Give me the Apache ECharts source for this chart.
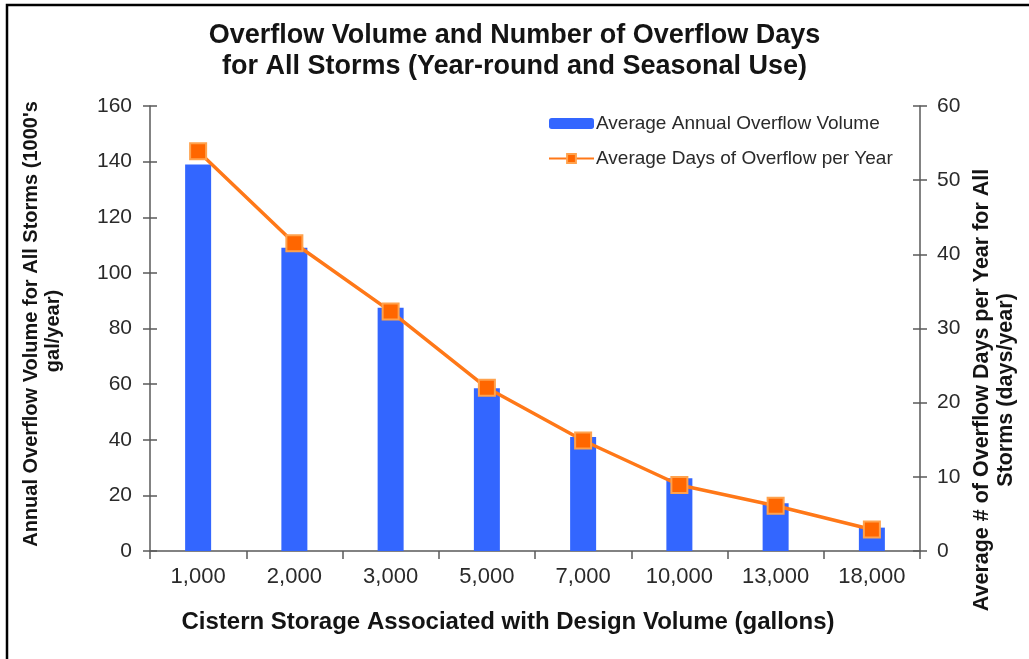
<!DOCTYPE html>
<html>
<head>
<meta charset="utf-8">
<script src="https://cdn.jsdelivr.net/npm/echarts@6/dist/echarts.min.js"></script>
<style>
html,body{margin:0;padding:0;background:#fff;}
#chart{width:1029px;height:659px;}
</style>
</head>
<body>
<div id="chart"></div>
<script>
const categories = ['1,000','2,000','3,000','5,000','7,000','10,000','13,000','18,000'];
const overflowVolume = [139, 109, 87.5, 58.5, 41, 26.2, 17.2, 8.4];
const overflowDays = [53.9, 41.5, 32.3, 22.0, 14.9, 8.9, 6.1, 2.9];
const titleLines = ['Overflow Volume and Number of Overflow Days', 'for All Storms (Year-round and Seasonal Use)'];
const seriesNames = ['Average Annual Overflow Volume', 'Average Days of Overflow per Year'];
const xAxisTitle = 'Cistern Storage Associated with Design Volume (gallons)';
const leftAxisTitle = ["Annual Overflow Volume for All Storms (1000's", 'gal/year)'];
const rightAxisTitle = ['Average # of Overflow Days per Year for All', 'Storms (days/year)'];
const leftAxisRange = [0, 160, 20];
const rightAxisRange = [0, 60, 10];

const FONT = 'Liberation Sans, Arial, sans-serif';
const axisColor = '#5a5a5a';
const labelColor = '#2a2a2a';
const titleColor = '#141414';

function valueAxis(range, pos, withLabels, inside) {
  return {
    type: 'value', min: range[0], max: range[1], interval: range[2],
    position: pos,
    splitLine: { show: false },
    axisLine: { show: withLabels, lineStyle: { color: axisColor, width: 1.5 } },
    axisTick: { show: true, inside: inside, length: 7, lineStyle: { color: axisColor, width: 1.5 } },
    axisLabel: { show: withLabels, fontFamily: FONT, fontSize: 21, color: labelColor, margin: pos === 'left' ? 18 : 17 }
  };
}

const chart = echarts.init(document.getElementById('chart'));
chart.setOption({
  backgroundColor: '#fff',
  animation: false,
  title: {
    text: titleLines.join('\n'),
    left: 'center',
    top: 15,
    textStyle: { fontFamily: FONT, fontSize: 27, fontWeight: 'bold', color: titleColor, lineHeight: 31 }
  },
  legend: {
    left: 548,
    top: 114,
    padding: 0,
    orient: 'vertical',
    itemGap: 16,
    itemWidth: 45,
    itemHeight: 11,
    textStyle: { fontFamily: FONT, fontSize: 19, color: labelColor, padding: [0,0,0,-3] },
    data: seriesNames
  },
  grid: { left: 150, right: 109, top: 106, bottom: 108, containLabel: false },
  xAxis: {
    type: 'category',
    data: categories,
    boundaryGap: true,
    axisLine: { lineStyle: { color: axisColor, width: 1.5 } },
    axisTick: { show: true, length: 8, lineStyle: { color: axisColor, width: 1.5 } },
    axisLabel: { fontFamily: FONT, fontSize: 22, color: labelColor, margin: 15 }
  },
  yAxis: [
    valueAxis(leftAxisRange, 'left', true, false),
    valueAxis(rightAxisRange, 'right', true, false),
    valueAxis(leftAxisRange, 'left', false, true),
    valueAxis(rightAxisRange, 'right', false, true)
  ],
  series: [
    {
      name: seriesNames[0],
      type: 'bar',
      yAxisIndex: 0,
      data: overflowVolume,
      barWidth: 26,
      itemStyle: { color: '#3366FF' },
      z: 2
    },
    {
      name: seriesNames[1],
      type: 'line',
      yAxisIndex: 1,
      data: overflowDays,
      symbol: 'rect',
      symbolSize: 16,
      lineStyle: { color: '#FF7818', width: 3.5 },
      itemStyle: { color: '#FF6600', borderColor: '#FFA24D', borderWidth: 2 },
      z: 3
    }
  ],
  graphic: [
    { type: 'rect', shape: { x: 7, y: 5, width: 1100, height: 800 }, style: { fill: 'none', stroke: '#000', lineWidth: 2.5 }, silent: true },
    { type: 'text', x: 508, y: 622, style: { text: xAxisTitle, font: 'bold 24px ' + FONT, fill: titleColor, textAlign: 'center', textVerticalAlign: 'middle' } },
    { type: 'text', x: 31, y: 324, rotation: Math.PI / 2, style: { text: leftAxisTitle[0], font: 'bold 20px ' + FONT, fill: titleColor, textAlign: 'center', textVerticalAlign: 'middle' } },
    { type: 'text', x: 53, y: 331, rotation: Math.PI / 2, style: { text: leftAxisTitle[1], font: 'bold 20px ' + FONT, fill: titleColor, textAlign: 'center', textVerticalAlign: 'middle' } },
    { type: 'text', x: 982, y: 390, rotation: Math.PI / 2, style: { text: rightAxisTitle[0], font: 'bold 21.5px ' + FONT, fill: titleColor, textAlign: 'center', textVerticalAlign: 'middle' } },
    { type: 'text', x: 1006, y: 390, rotation: Math.PI / 2, style: { text: rightAxisTitle[1], font: 'bold 21.5px ' + FONT, fill: titleColor, textAlign: 'center', textVerticalAlign: 'middle' } }
  ]
});
</script>
</body>
</html>
